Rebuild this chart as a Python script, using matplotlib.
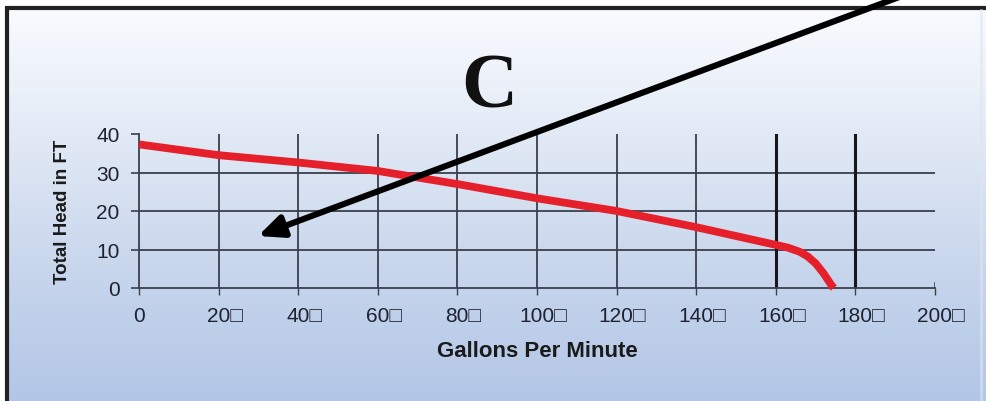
import numpy as np
import matplotlib
matplotlib.use("Agg")
import matplotlib.pyplot as plt
from matplotlib.colors import to_rgb
from matplotlib.transforms import ScaledTranslation

# ---- data ----
flow_gpm = [0, 20, 40, 60, 80, 100, 120, 140, 160, 163, 166, 168, 170, 172, 174, 174.6]
head_ft = [37.3, 34.5, 32.6, 30.4, 27.0, 23.3, 20.0, 15.8, 11.2, 10.5, 9.4, 8.2, 6.4, 3.8, 0.7, 0.0]
x_ticks = [0, 20, 40, 60, 80, 100, 120, 140, 160, 180, 200]
x_tick_labels = ["0"] + [f"{v}\u25a1" for v in x_ticks[1:]]
y_ticks = [0, 10, 20, 30, 40]
y_tick_labels = ["0", "10", "20", "30", "40"]
title = "C"
x_label = "Gallons Per Minute"
y_label = "Total Head in FT"

W, H = 987, 402
fig = plt.figure(figsize=(W / 100, H / 100), dpi=100)

# ---- background (pixel coordinates, origin top-left) ----
bg = fig.add_axes([0, 0, 1, 1], zorder=0)
bg.set_xlim(0, W)
bg.set_ylim(H, 0)
bg.axis("off")
stops = [(0.0, "#f9fbfe"), (0.25, "#e8eef8"), (0.5, "#d4dff0"), (0.75, "#c2d2eb"), (1.0, "#b3c6e6")]
t = np.linspace(0, 1, 256)
cols = np.array([to_rgb(c) for _, c in stops])
pos = [p for p, _ in stops]
grad = np.stack([np.interp(t, pos, cols[:, k]) for k in range(3)], axis=1)
img = np.repeat(grad[:, None, :], 2, axis=1)
bg.imshow(img, extent=(0, W, H, 8), aspect="auto", interpolation="bilinear")
bg.fill_between([0, W], 0, 7.5, color="white", zorder=2)
bg.fill_betweenx([0, H], 0, 4.5, color="white", zorder=2)
bg.plot([4.5, W], [8.8, 8.8], color="#222222", lw=3.0, solid_capstyle="butt", zorder=3)
bg.plot([6.5, 6.5], [7.5, H], color="#222222", lw=3.0, solid_capstyle="butt", zorder=3)
bg.plot([981, 981], [11, H], color="#dde6f3", lw=2.0, alpha=0.6, zorder=3)

# ---- chart axes ----
x0, x1, y0, y1 = 139, 935, 135, 289
ax = fig.add_axes([x0 / W, 1 - y1 / H, (x1 - x0) / W, (y1 - y0) / H], zorder=1)
ax.patch.set_alpha(0)
ax.set_xlim(0, 200)
ax.set_ylim(0, 40)
gcol = "#3a3f4c"
for v in y_ticks[1:-1]:
    ax.axhline(v, color=gcol, lw=1.3, zorder=1)
for v in x_ticks[1:-1]:
    lw = 2.2 if v in (160, 180) else 1.3
    c = "#15171c" if v in (160, 180) else gcol
    ax.axvline(v, color=c, lw=lw, zorder=1)
ax.axvline(200, ymax=0.035, color=gcol, lw=1.2, zorder=1)
for s in ["top", "right"]:
    ax.spines[s].set_visible(False)
for s in ["left", "bottom"]:
    ax.spines[s].set_color(gcol)
    ax.spines[s].set_linewidth(1.3)

ax.plot(flow_gpm, head_ft, color="#e5202b", lw=5.6, solid_capstyle="butt",
        solid_joinstyle="round", zorder=3, clip_on=False)

ax.set_xticks(x_ticks)
ax.set_xticklabels(x_tick_labels, family="Liberation Sans", fontsize=15, color="#1f2230")
ax.set_yticks(y_ticks)
ax.set_yticklabels(y_tick_labels, family="Liberation Sans", fontsize=15, color="#1f2230")
ax.tick_params(axis="x", direction="out", length=5, width=1.0, color=gcol, pad=8)
ax.tick_params(axis="y", direction="out", length=6, width=1.2, color=gcol, pad=8)
shift = ScaledTranslation(6.0 / 100, 0, fig.dpi_scale_trans)
for lab in ax.get_xticklabels()[1:]:
    lab.set_transform(lab.get_transform() + shift)

# ---- texts ----
fig.text(489 / W, 1 - 107 / H, title, family="Liberation Serif", weight="bold",
         fontsize=56, ha="center", va="baseline", color="#111111")
fig.text(537 / W, 1 - 352 / H, x_label, family="Liberation Sans", weight="bold",
         fontsize=16, ha="center", va="center", color="#1a1a1a")
fig.text(63 / W, 1 - 212 / H, y_label, family="Liberation Sans",
         weight="bold", fontsize=13.5, rotation=90, ha="center", va="center", color="#1a1a1a")

# ---- arrow overlay ----
ov = fig.add_axes([0, 0, 1, 1], zorder=5)
ov.set_xlim(0, W)
ov.set_ylim(H, 0)
ov.axis("off")
ov.patch.set_alpha(0)
ov.annotate("", xy=(258, 237), xytext=(902, -3),
            arrowprops=dict(arrowstyle="-|>,head_length=1.0,head_width=0.45",
                            mutation_scale=15, lw=4.4, color="black",
                            shrinkA=0, shrinkB=0))

fig.savefig("out.png", dpi=100)
